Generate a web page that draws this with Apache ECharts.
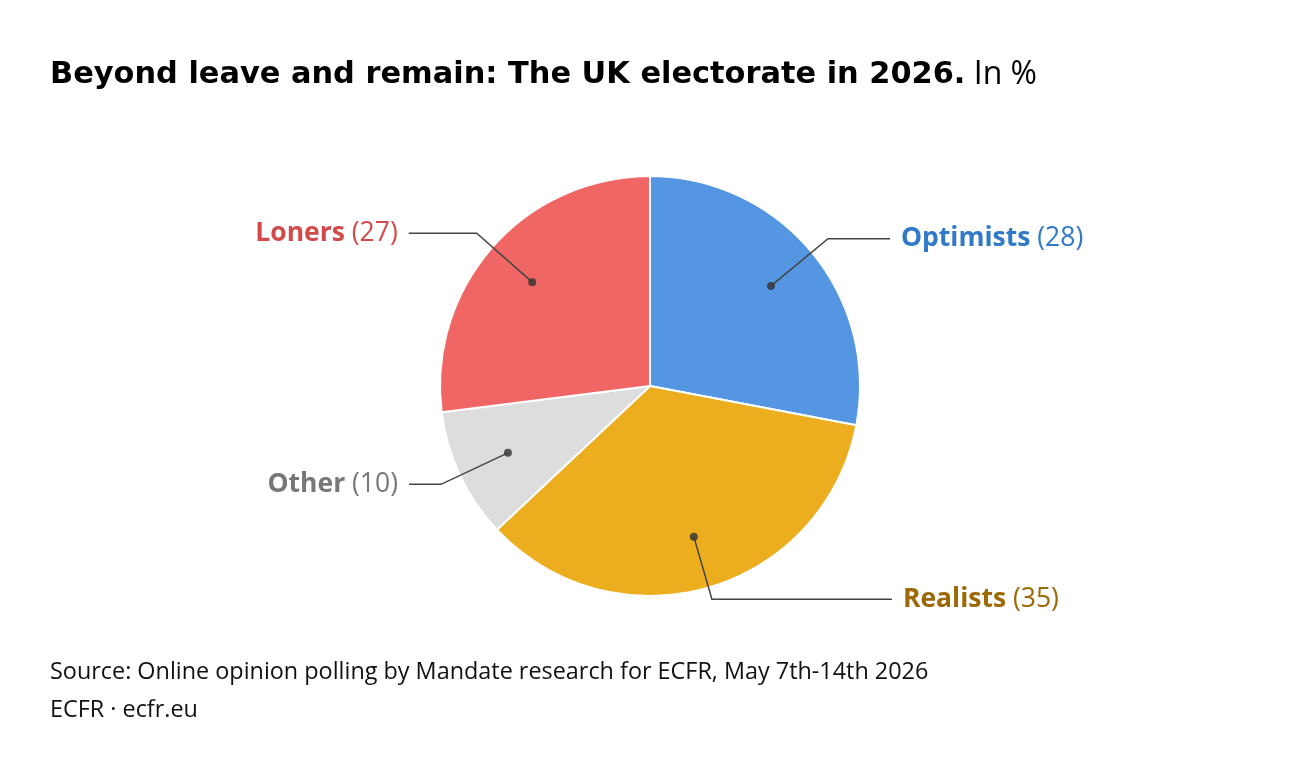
<!DOCTYPE html>
<html>
<head>
<meta charset="utf-8">
<script src="https://cdn.jsdelivr.net/npm/echarts@6/dist/echarts.min.js"></script>
<style>
  html, body { margin: 0; padding: 0; background: #fff; }
  #chart { width: 1300px; height: 776px; }
</style>
</head>
<body>
<div id="chart"></div>
<script>
// data
const groups = ['Optimists', 'Realists', 'Other', 'Loners'];
const shares = [28, 35, 10, 27];
const sliceColors = ['#5596e2', '#ecae1f', '#dddddd', '#f06664'];
const labelColors = ['#2f79c8', '#9c6904', '#777777', '#d24a4a'];
// label line lengths per slice (first segment, horizontal segment)
const lineLen = [74, 65, 74, 74];
const lineLen2 = [62, 180, 32, 68];

const font = '"Open Sans", Lato, sans-serif';
const titleFont = '"DejaVu Sans", "Open Sans", sans-serif';
const R = 210;
const dotR = 157;

const chart = echarts.init(document.getElementById('chart'));

// mid angle of each slice in percent of the circle, for the dots
let acc = 0;
const total = shares.reduce((a, b) => a + b, 0);
const dots = shares.map(v => {
  const mid = (acc + v / 2) / total * 100;
  acc += v;
  return [dotR, mid];
});

const option = {
  backgroundColor: '#fff',
  animation: false,
  title: [
    {
      left: 45, top: 54,
      text: '{b|Beyond leave and remain: The UK electorate in 2026.}{r| In %}',
      textStyle: {
        rich: {
          b: { fontFamily: titleFont, fontWeight: 'bold', fontSize: 30.4, color: '#000' },
          r: { fontFamily: font, fontWeight: 'normal', fontSize: 32, color: '#000' }
        }
      }
    },
    {
      left: 45, top: 648,
      text: 'Source: Online opinion polling by Mandate research for ECFR, May 7th-14th 2026\nECFR · ecfr.eu',
      textStyle: { fontFamily: font, fontWeight: 'normal', fontSize: 23.4, color: '#111', lineHeight: 38 }
    }
  ],
  polar: { center: [650, 386], radius: R },
  angleAxis: { min: 0, max: 100, startAngle: 90, clockwise: true, show: false },
  radiusAxis: { min: 0, max: R, show: false },
  series: [
    {
      type: 'pie',
      z: 1,
      center: [650, 386],
      radius: [0, R],
      startAngle: 90,
      clockwise: true,
      silent: true,
      label: { show: false },
      labelLine: { show: false },
      itemStyle: { borderColor: '#fff', borderWidth: 2 },
      data: groups.map((g, i) => ({ name: g, value: shares[i], itemStyle: { color: sliceColors[i] } }))
    },
    {
      type: 'pie',
      z: 3,
      center: [650, 386],
      radius: [0, dotR],
      startAngle: 90,
      clockwise: true,
      silent: true,
      avoidLabelOverlap: false,
      itemStyle: { color: 'transparent' },
      label: {
        show: true,
        position: 'outside',
        distanceToLabelLine: 11,
        formatter: p => '{n|' + p.name + '}{v| (' + p.value + ')}'
      },
      labelLine: { show: true, lineStyle: { color: '#444', width: 1.5 } },
      data: groups.map((g, i) => ({
        name: g,
        value: shares[i],
        label: {
          rich: {
            n: { fontFamily: font, fontWeight: 'bold', fontSize: 26.5, color: labelColors[i] },
            v: { fontFamily: font, fontWeight: 'normal', fontSize: 26.5, color: labelColors[i] }
          }
        },
        labelLine: { length: lineLen[i], length2: lineLen2[i] }
      }))
    },
    {
      type: 'scatter',
      coordinateSystem: 'polar',
      symbolSize: 8,
      silent: true,
      itemStyle: { color: '#333' },
      z: 5,
      data: dots
    }
  ]
};

chart.setOption(option);
</script>
</body>
</html>
